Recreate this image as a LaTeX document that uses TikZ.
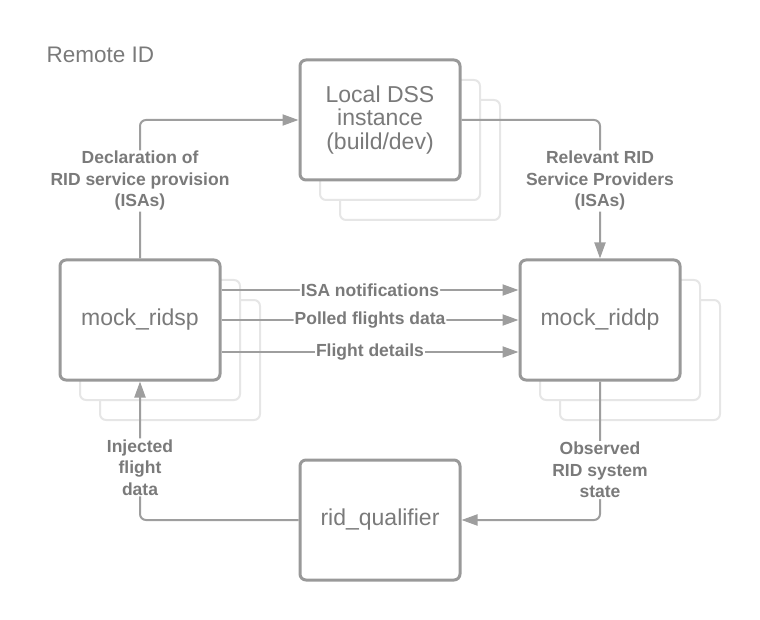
\documentclass[tikz,border=0pt]{standalone}
\usepackage{fontspec}
\setmainfont{Liberation Sans}
\usepackage{tikz}
\usetikzlibrary{arrows.meta}

\definecolor{linegray}{HTML}{9E9E9E}
\definecolor{boxgray}{HTML}{999999}
\definecolor{shadegray}{HTML}{E6E6E6}
\definecolor{textgray}{HTML}{7A7A7A}

\tikzset{
  mainbox/.style={draw=boxgray, line width=3pt, fill=white, rounded corners=6pt,
    minimum width=160pt, minimum height=120pt, inner sep=0pt, align=center,
    text=textgray, font=\fontsize{23}{23.5}\selectfont},
  shadowbox/.style={draw=shadegray, line width=2pt, fill=white, rounded corners=6pt,
    minimum width=160pt, minimum height=120pt, inner sep=0pt},
  flowline/.style={draw=linegray, line width=2pt, rounded corners=6pt,
    -{Triangle[length=16pt, width=11pt]}},
  flowlabel/.style={fill=white, inner sep=1pt, align=center, text=textgray,
    font=\bfseries\fontsize{17.5}{21.5}\selectfont},
}

\begin{document}
\begin{tikzpicture}[x=1pt, y=-1pt]
    \useasboundingbox (0,0) rectangle (760,620);

    \node[anchor=west, text=textgray, font=\fontsize{22.5}{24}\selectfont] (title) at (43,55) {Remote ID};

    % stacked boxes behind the main ones
    \foreach \o in {40,20} {
      \node[shadowbox] at (380+\o,120+\o) {};
      \node[shadowbox] at (140+\o,320+\o) {};
      \node[shadowbox] at (600+\o,320+\o) {};
    }

    \node[mainbox] (dss) at (380,120) {Local DSS\\instance\\(build/dev)};
    \node[mainbox] (ridsp) at (140,320) {mock\_ridsp};
    \node[mainbox] (riddp) at (600,320) {mock\_riddp};
    \node[mainbox] (qualifier) at (380,520) {rid\_qualifier};

    \draw[flowline] (ridsp.north) |- node[flowlabel, pos=0.28] {Declaration of\\RID service provision\\(ISAs)} (dss.west);
    \draw[flowline] (dss.east) -| node[flowlabel, pos=0.72] {Relevant RID\\Service Providers\\(ISAs)} (riddp.north);

    \draw[flowline] ([yshift=30pt]ridsp.east) -- node[flowlabel] {ISA notifications} ([yshift=30pt]riddp.west);
    \draw[flowline] (ridsp.east) -- node[flowlabel] {Polled flights data} (riddp.west);
    \draw[flowline] ([yshift=-32pt]ridsp.east) -- node[flowlabel] {Flight details} ([yshift=-32pt]riddp.west);

    \draw[flowline] (riddp.south) |- node[flowlabel, pos=0.32] {Observed\\RID system\\state} (qualifier.east);
    \draw[flowline] (qualifier.west) -| node[flowlabel, pos=0.69] {Injected\\flight\\data} (ridsp.south);
\end{tikzpicture}
\end{document}
